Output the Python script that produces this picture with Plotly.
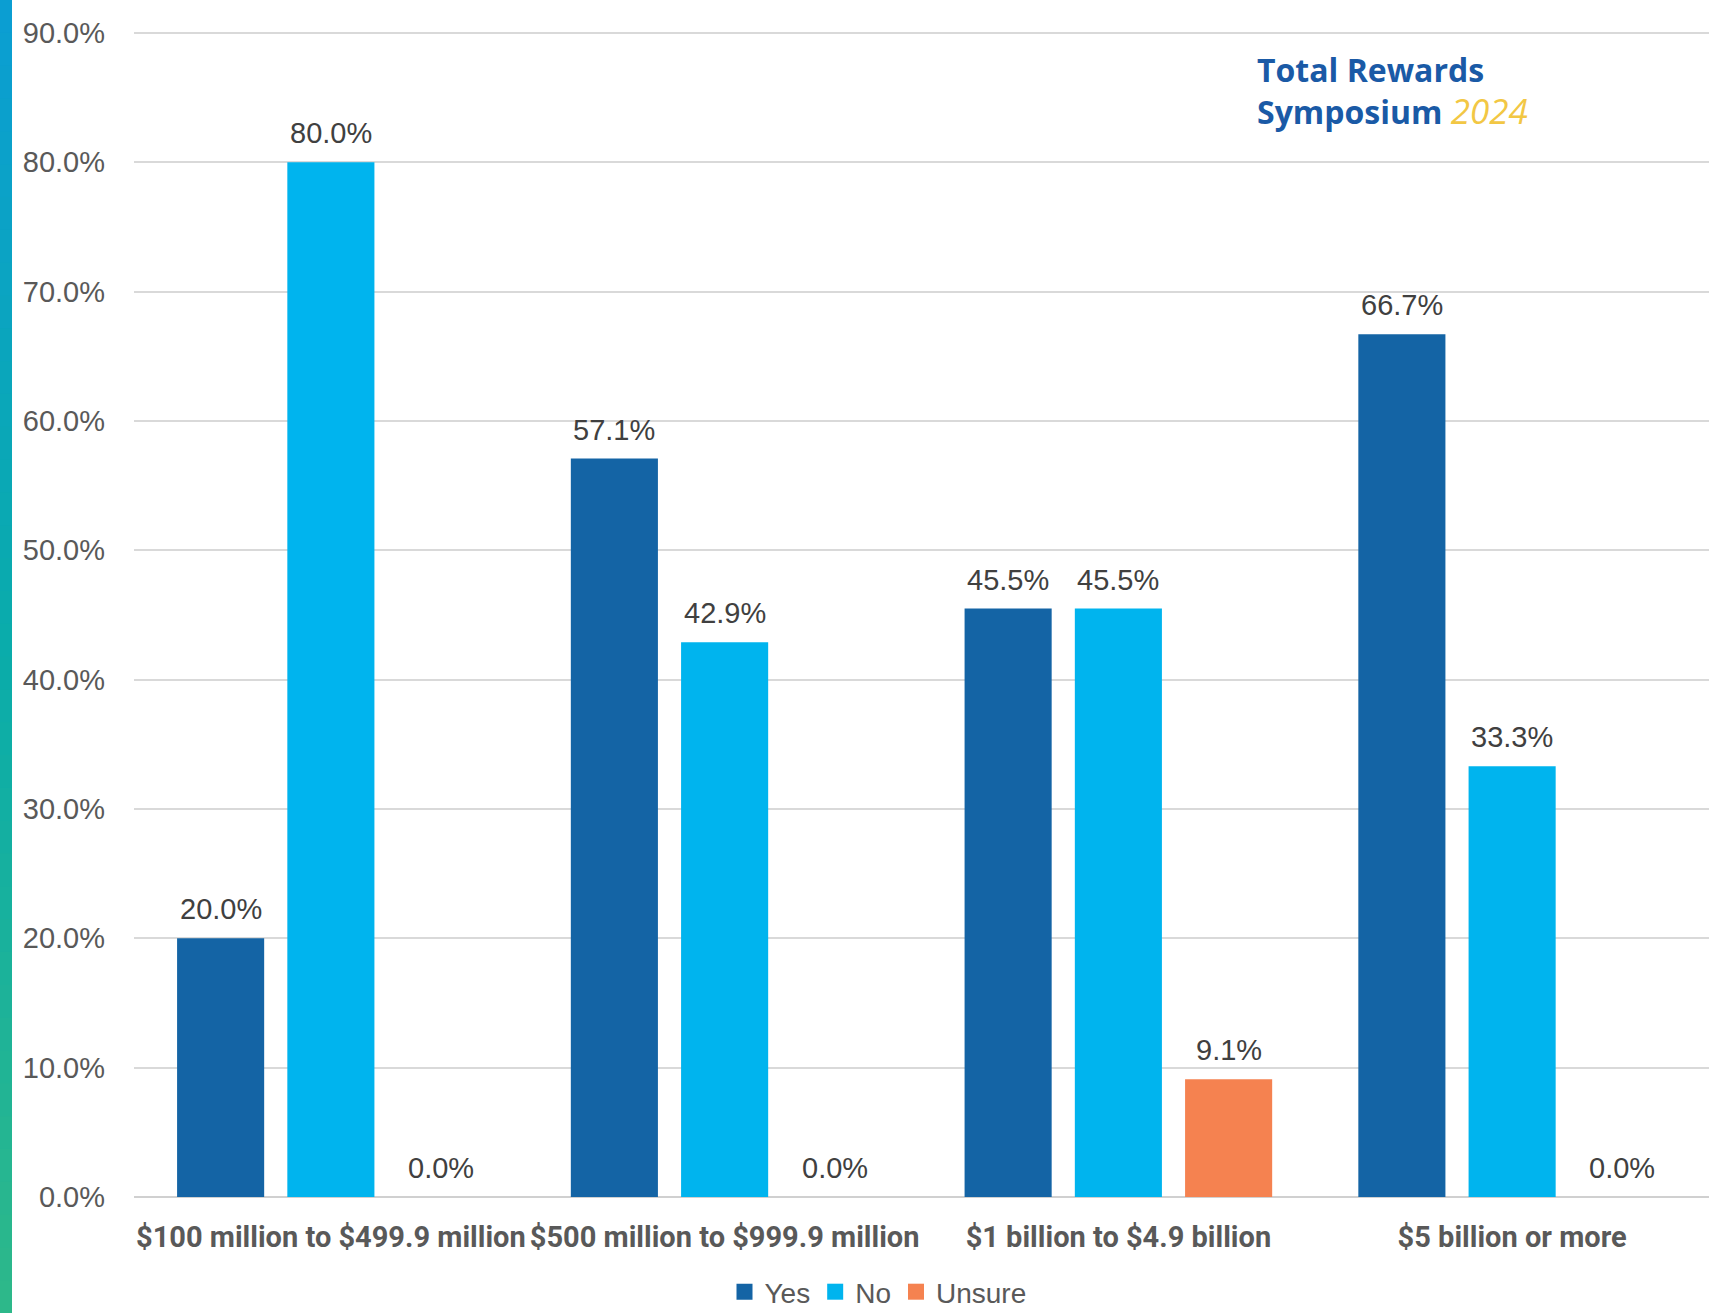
import plotly.graph_objects as go

categories = ["$100 million to $499.9 million", "$500 million to $999.9 million",
              "$1 billion to $4.9 billion", "$5 billion or more"]
series_names = ["Yes", "No", "Unsure"]
yes_vals = [20.0, 57.1, 45.5, 66.7]
no_vals = [80.0, 42.9, 45.5, 33.3]
unsure_vals = [0.0, 0.0, 9.1, 0.0]
y_ticks = [0, 10, 20, 30, 40, 50, 60, 70, 80, 90]

colors = ["#1464A5", "#00B4EE", "#F58250"]
all_vals = [yes_vals, no_vals, unsure_vals]

W, H = 1709, 1313
ML, MR, MT, MB = 134, 0, 30, 116
PW, PH = W - ML - MR, H - MT - MB
Y0_PX, Y90_PX = 1197, 33          # pixel rows of 0% and 90%
per_unit = (Y0_PX - Y90_PX) / 90.0
y_top = (H - MB - MT) / per_unit
BARGAP, GROUPGAP = 0.16, 0.21


def py(Y):
    return (H - MB - Y) / PH


def px(X):
    return (X - ML) / PW


xs = list(range(len(categories)))
fig = go.Figure()
for name, vals, col in zip(series_names, all_vals, colors):
    fig.add_trace(go.Bar(x=xs, y=vals, name=name, marker=dict(color=col, line=dict(width=0)),
                         hoverinfo="y", showlegend=False, legendgroup=name))
# legend entries with larger square swatches
for name, col in zip(series_names, colors):
    fig.add_trace(go.Scatter(x=[None], y=[None], mode="markers", name=name, legendgroup=name,
                             marker=dict(symbol="square", size=20, color=col)))

# data labels
slot = (1 - BARGAP) / len(series_names)
for i, vals in enumerate(all_vals):
    off = (i - (len(series_names) - 1) / 2) * slot
    for j, v in enumerate(vals):
        fig.add_annotation(x=j + off, y=v, xref="x", yref="y", text=f"{v:.1f}%",
                           showarrow=False, yanchor="bottom", yshift=11,
                           font=dict(family="Liberation Sans, Arial", size=29, color="#404040"))

# logo
fig.add_annotation(xref="paper", yref="paper", x=px(1255), y=py(91),
                   xanchor="left", yanchor="middle", showarrow=False, align="left",
                   text="<b>Total Rewards</b><br><b>Symposium</b> "
                        "<i><span style='color:#F2C744;font-size:35px'>2024</span></i>",
                   font=dict(family="Open Sans", size=32, color="#1A5AA6"))

# left gradient stripe
top = (11, 158, 210)
mid = (10, 172, 170)
bot = (45, 184, 138)
N = 40
seg = H / N
for k in range(N):
    t = k / (N - 1)
    if t < 0.5:
        a, b, u = top, mid, t / 0.5
    else:
        a, b, u = mid, bot, (t - 0.5) / 0.5
    c = tuple(int(round(a[m] + (b[m] - a[m]) * u)) for m in range(3))
    fig.add_shape(type="rect", xref="paper", yref="paper", layer="below",
                  x0=px(0), x1=px(12),
                  y0=py(k * seg + seg + 1), y1=py(k * seg),
                  line=dict(width=0), fillcolor=f"rgb{c}")

fig.update_layout(
    width=W, height=H,
    margin=dict(l=ML, r=MR, t=MT, b=MB, autoexpand=False),
    paper_bgcolor="white", plot_bgcolor="white",
    barmode="group", bargap=BARGAP, bargroupgap=GROUPGAP,
    showlegend=True,
    legend=dict(orientation="h", x=px(878), xanchor="center",
                y=py(1292), yanchor="middle", itemsizing="trace",
                font=dict(family="Liberation Sans, Arial", size=28, color="#595959"),
                tracegroupgap=0, bgcolor="rgba(0,0,0,0)"),
    xaxis=dict(tickmode="array", tickvals=xs, ticktext=categories, range=[-0.5, len(categories) - 0.5],
               showgrid=False, zeroline=False, showline=False, ticks="",
               tickfont=dict(family="Roboto", size=29, color="#595959", weight="bold"),
               ticklabelstandoff=20),
    yaxis=dict(range=[0, y_top], tickvals=y_ticks, ticktext=[f"{v:.1f}%" for v in y_ticks],
               showgrid=True, gridcolor="#D9D9D9", gridwidth=1.5,
               zeroline=True, zerolinecolor="#D0D0D0", zerolinewidth=2,
               showline=False, ticks="",
               tickfont=dict(family="Liberation Sans, Arial", size=29, color="#595959"),
               ticklabelstandoff=28),
)

fig.write_html("out.html", config={"displayModeBar": False},
               post_script="document.body.style.margin='0';document.body.style.overflow='hidden';")
